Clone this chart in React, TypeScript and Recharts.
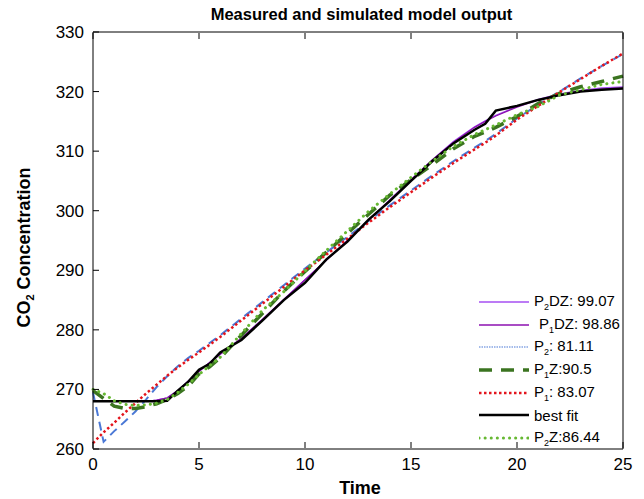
import React from "react";
import { LineChart, Line, XAxis, YAxis, Legend } from "recharts";

// time axis (shared by every series)
const time = [0, 0.5, 1, 1.5, 2, 2.5, 3, 3.5, 4, 4.5, 5, 5.5, 6, 7, 8, 9, 10, 11, 12, 13, 14, 15, 16, 17, 18, 18.5, 19, 20, 21, 22, 23, 24, 25];

const p2dz = [268, 268, 268, 268, 268, 268, 268.2, 268.6, 269.8, 271.4, 273.0, 274.5, 275.9, 278.6, 281.8, 285.1, 288.4, 291.7, 295.0, 298.4, 301.8, 305.2, 308.5, 311.6, 314.1, 315.1, 316.0, 317.5, 318.7, 319.6, 320.2, 320.6, 320.8];
const p1dz = [268, 268, 268, 268, 268, 268, 268.2, 268.6, 269.8, 271.4, 273.0, 274.5, 275.9, 278.6, 281.8, 285.1, 288.4, 291.7, 295.0, 298.4, 301.8, 305.2, 308.5, 311.5, 314.0, 315.0, 315.9, 317.4, 318.6, 319.5, 320.1, 320.4, 320.6];
const p2 = [269.5, 261.2, 263.0, 264.6, 266.3, 268.3, 270.4, 272.2, 273.9, 275.3, 276.5, 277.8, 279.1, 281.9, 284.7, 287.5, 290.3, 293.0, 295.6, 298.3, 300.9, 303.4, 305.9, 308.3, 310.6, 311.7, 312.9, 315.5, 317.8, 320.0, 322.2, 324.3, 326.3];
const p1z = [269.8, 268.5, 267.2, 266.8, 266.8, 267.1, 267.6, 268.3, 269.3, 270.6, 272.6, 273.8, 275.3, 279.1, 282.8, 286.5, 289.8, 293.0, 296.2, 299.4, 302.6, 305.2, 307.7, 310.4, 312.5, 313.2, 314.0, 315.8, 318.0, 319.7, 320.8, 321.7, 322.6];
const p1 = [261.0, 262.8, 264.4, 266.1, 267.7, 269.3, 270.8, 272.3, 273.7, 275.0, 276.2, 277.5, 278.8, 281.6, 284.4, 287.2, 290.0, 292.6, 295.3, 298.0, 300.6, 303.1, 305.6, 308.0, 310.3, 311.4, 312.6, 315.3, 317.6, 319.9, 322.1, 324.3, 326.4];
const bestFit = [268, 268, 268, 268, 268, 268, 268, 268.1, 269.8, 271.3, 273.3, 274.3, 276.2, 278.3, 281.6, 285.0, 287.9, 291.8, 294.8, 298.5, 301.6, 305.0, 308.3, 311.3, 313.6, 314.6, 316.8, 317.6, 318.6, 319.4, 320.0, 320.3, 320.5];
const p2z = [270.0, 269.3, 268.1, 267.5, 267.3, 267.4, 267.7, 268.3, 269.5, 270.9, 272.5, 274.0, 275.4, 279.4, 283.3, 286.4, 289.9, 293.3, 296.6, 299.9, 302.8, 305.6, 308.3, 310.8, 312.8, 313.6, 314.4, 316.1, 317.5, 319.4, 320.3, 321.2, 321.7];

const xTicks = [0, 5, 10, 15, 20, 25];
const yTicks = [260, 270, 280, 290, 300, 310, 320, 330];

const data = time.map((t, i) => ({
  t,
  p2dz: p2dz[i],
  p1dz: p1dz[i],
  p2: p2[i],
  p1z: p1z[i],
  p1: p1[i],
  best: bestFit[i],
  p2z: p2z[i],
}));

// series styles, in plotting / legend order
const series = [
  { key: "p2dz", pre: "P", sub: "2", post: "DZ: 99.07", color: "#a64ff2", width: 1.3, dash: undefined, legendDash: undefined, legendWidth: 1.3, indent: 0 },
  { key: "p1dz", pre: "P", sub: "1", post: "DZ: 98.86", color: "#8c10b0", width: 1.3, dash: undefined, legendDash: undefined, legendWidth: 1.3, indent: 5 },
  { key: "p2", pre: "P", sub: "2", post: ": 81.11", color: "#4a78d6", width: 2, dash: "9 6", legendDash: "1.5 1", legendWidth: 1.2, indent: 0 },
  { key: "p1z", pre: "P", sub: "1", post: "Z:90.5", color: "#3b7420", width: 3.5, dash: "13 9", legendDash: "13 9", legendWidth: 3.5, indent: 0 },
  { key: "p1", pre: "P", sub: "1", post: ": 83.07", color: "#e3141c", width: 2.5, dash: "2.5 2.5", legendDash: "2.5 2.5", legendWidth: 2.5, indent: 0 },
  { key: "best", pre: "best fit", sub: "", post: "", color: "#000000", width: 2.5, dash: undefined, legendDash: undefined, legendWidth: 2.5, indent: 0 },
  { key: "p2z", pre: "P", sub: "2", post: "Z:86.44", color: "#66b832", width: 3, dash: "0.1 6", legendDash: "0.1 6", legendWidth: 3, indent: 0 },
];

const FONT = "'Liberation Sans', Arial, sans-serif";

const BottomTick = (props: any) => {
  const { x, y, payload } = props;
  const y0 = y - 1;
  return (
    <g>
      <line x1={x} x2={x} y1={y0} y2={y0 - 6} stroke="#000" />
      <text x={x} y={y0 + 22} textAnchor="middle" fontSize={17} fontFamily={FONT} fill="#000">
        {payload.value}
      </text>
    </g>
  );
};

const TopTick = (props: any) => {
  const { x, y } = props;
  const y0 = y + 1;
  return <line x1={x} x2={x} y1={y0} y2={y0 + 6} stroke="#000" />;
};

const LeftTick = (props: any) => {
  const { x, y, payload } = props;
  return (
    <g>
      <line x1={x} x2={x + 6} y1={y} y2={y} stroke="#000" />
      <text x={x - 9} y={y + 6} textAnchor="end" fontSize={17} fontFamily={FONT} fill="#000">
        {payload.value}
      </text>
    </g>
  );
};

const RightTick = (props: any) => {
  const { x, y } = props;
  return <line x1={x} x2={x - 6} y1={y} y2={y} stroke="#000" />;
};

const YLabel = (props: any) => {
  const { viewBox } = props;
  const cx = viewBox.x + viewBox.width - 63;
  const cy = viewBox.y + viewBox.height / 2 + 7;
  return (
    <text
      x={cx}
      y={cy}
      transform={`rotate(-90 ${cx} ${cy})`}
      textAnchor="middle"
      fontSize={18}
      fontWeight="bold"
      fontFamily={FONT}
      fill="#000"
    >
      CO<tspan fontSize={11} dy={4}>2</tspan>
      <tspan dy={-4}> Concentration</tspan>
    </text>
  );
};

const XLabel = (props: any) => {
  const { viewBox } = props;
  const cx = viewBox.x + viewBox.width / 2 + 2;
  return (
    <text x={cx} y={viewBox.y + 45} textAnchor="middle" fontSize={18} fontWeight="bold" fontFamily={FONT} fill="#000">
      Time
    </text>
  );
};

const LegendBox = () => (
  <div style={{ fontFamily: FONT, fontSize: 15, color: "#000" }}>
    {series.map((s) => (
      <div key={s.key} style={{ display: "flex", alignItems: "center", height: 22.6, whiteSpace: "nowrap" }}>
        <svg width={50} height={10} style={{ flex: "none" }}>
          <line
            x1={0}
            x2={50}
            y1={5}
            y2={5}
            stroke={s.color}
            strokeWidth={s.legendWidth}
            strokeDasharray={s.legendDash}
            strokeLinecap={s.key === "p2z" ? "round" : "butt"}
          />
        </svg>
        <span style={{ marginLeft: 5 + s.indent }}>
          {s.pre}
          {s.sub && <sub style={{ fontSize: 9 }}>{s.sub}</sub>}
          {s.post}
        </span>
      </div>
    ))}
  </div>
);

export default function App() {
  return (
    <div style={{ position: "absolute", left: 0, top: 0, width: 644, height: 499, background: "#fff", fontFamily: FONT }}>
      <div
        style={{
          position: "absolute",
          left: 93,
          width: 537,
          top: 5,
          textAlign: "center",
          fontSize: 16.5,
          fontWeight: "bold",
          fontFamily: FONT,
        }}
      >
        Measured and simulated model output
      </div>
      <LineChart width={644} height={499} data={data} margin={{ top: 31, right: 20, bottom: 49, left: 92 }}>
        <XAxis
          dataKey="t"
          type="number"
          domain={[0, 25]}
          ticks={xTicks}
          height={1}
          tickSize={0}
          tickMargin={0}
          tick={BottomTick}
          tickLine={false}
          axisLine={{ stroke: "#000" }}
          label={<XLabel />}
        />
        <XAxis
          xAxisId="top"
          orientation="top"
          dataKey="t"
          type="number"
          domain={[0, 25]}
          ticks={xTicks}
          height={1}
          tickSize={0}
          tickMargin={0}
          tick={TopTick}
          tickLine={false}
          axisLine={{ stroke: "#000" }}
        />
        <YAxis
          type="number"
          domain={[260, 330]}
          ticks={yTicks}
          width={1}
          tickSize={0}
          tickMargin={0}
          tick={LeftTick}
          tickLine={false}
          axisLine={{ stroke: "#000" }}
          label={<YLabel />}
        />
        <YAxis
          yAxisId="right"
          orientation="right"
          type="number"
          domain={[260, 330]}
          ticks={yTicks}
          width={1}
          tickSize={0}
          tickMargin={0}
          tick={RightTick}
          tickLine={false}
          axisLine={{ stroke: "#000" }}
        />
        {series.map((s) => (
          <Line
            key={s.key}
            type="linear"
            dataKey={s.key}
            stroke={s.color}
            strokeWidth={s.width}
            strokeDasharray={s.dash}
            strokeLinecap={s.key === "p2z" ? "round" : "butt"}
            dot={false}
            activeDot={false}
            isAnimationActive={false}
          />
        ))}
        <Legend
          layout="vertical"
          align="center"
          verticalAlign="middle"
          content={<LegendBox />}
          wrapperStyle={{ left: 479, top: 291, width: 165 }}
        />
      </LineChart>
    </div>
  );
}
